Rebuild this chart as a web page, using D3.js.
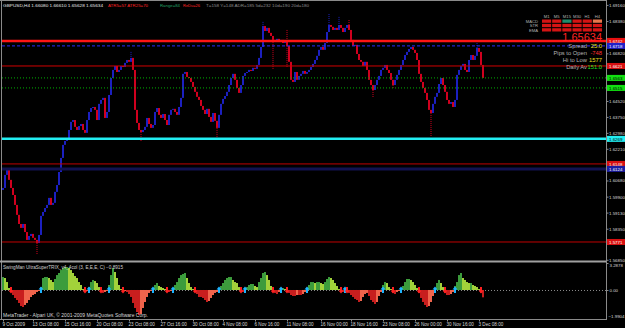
<!DOCTYPE html>
<html><head>
<meta charset="utf-8">
<title>GBPUSD,H4</title>
<script src="https://d3js.org/d3.v7.min.js"></script>
<style>
  body { margin: 0; background: #000; }
  svg { display: block; font-family: "Liberation Sans", Arial, sans-serif; }
  .axis path { stroke: none; }
  .axis line { stroke: #8c8c8c; }
  .axis text { fill: #d8d8d8; font-size: 4.4px; }
</style>
</head>
<body>
<svg id="chart" width="625" height="328"></svg>

<script>

  // ---- data ----

  // H4 closes, one per bar (open = previous close)
  const firstOpen = 1.6022;
  const closes = [
    1.6032,1.6095,1.6119,1.6071,1.6032,1.5998,1.5950,1.5902,1.5858,1.5839,
    1.5858,1.5819,1.5781,1.5800,1.5810,1.5791,1.5781,1.5766,1.5805,1.5897,
    1.5916,1.5935,1.5950,1.5984,1.5950,1.5960,1.6013,1.6046,1.6109,1.6177,
    1.6240,1.6259,1.6273,1.6312,1.6351,1.6360,1.6327,1.6312,1.6331,1.6341,
    1.6312,1.6298,1.6360,1.6399,1.6418,1.6423,1.6409,1.6360,1.6438,1.6457,
    1.6467,1.6370,1.6399,1.6481,1.6563,1.6602,1.6621,1.6592,1.6602,1.6621,
    1.6616,1.6636,1.6650,1.6641,1.6660,1.6602,1.6409,1.6346,1.6312,1.6302,
    1.6312,1.6327,1.6370,1.6341,1.6322,1.6336,1.6399,1.6418,1.6385,1.6370,
    1.6389,1.6360,1.6336,1.6385,1.6409,1.6414,1.6399,1.6385,1.6423,1.6467,
    1.6583,1.6592,1.6568,1.6563,1.6544,1.6520,1.6496,1.6472,1.6457,1.6428,
    1.6409,1.6389,1.6414,1.6375,1.6351,1.6394,1.6356,1.6322,1.6385,1.6438,
    1.6462,1.6476,1.6496,1.6529,1.6563,1.6583,1.6554,1.6515,1.6491,1.6529,
    1.6573,1.6587,1.6592,1.6602,1.6597,1.6612,1.6607,1.6626,1.6660,1.6713,
    1.6814,1.6790,1.6805,1.6781,1.6766,1.6747,1.6737,1.6752,1.6737,1.6747,
    1.6732,1.6742,1.6718,1.6641,1.6554,1.6544,1.6592,1.6554,1.6573,1.6583,
    1.6597,1.6583,1.6592,1.6602,1.6616,1.6631,1.6650,1.6670,1.6699,1.6713,
    1.6699,1.6732,1.6785,1.6819,1.6810,1.6795,1.6805,1.6795,1.6819,1.6805,
    1.6785,1.6805,1.6819,1.6795,1.6747,1.6718,1.6723,1.6679,1.6650,1.6641,
    1.6621,1.6641,1.6602,1.6554,1.6529,1.6505,1.6529,1.6554,1.6573,1.6602,
    1.6612,1.6626,1.6602,1.6587,1.6554,1.6529,1.6554,1.6578,1.6602,1.6626,
    1.6650,1.6674,1.6689,1.6703,1.6713,1.6699,1.6684,1.6650,1.6583,1.6544,
    1.6515,1.6491,1.6457,1.6409,1.6394,1.6438,1.6472,1.6491,1.6534,1.6563,
    1.6529,1.6496,1.6457,1.6438,1.6447,1.6423,1.6457,1.6578,1.6602,1.6621,
    1.6631,1.6602,1.6592,1.6650,1.6674,1.6650,1.6670,1.6708,1.6689,1.6626,
    1.65634
  ];

  // the few long shadows that stick out
  const spikeBar  = [17, 64, 69, 107, 130, 135, 142, 163, 168, 173, 185, 195, 214, 237];
  const spikeHigh = [null, 1.6689, null, null, 1.6834, null, 1.6795, 1.6872, 1.6858, 1.6843, null, null, null, 1.6732];
  const spikeLow  = [1.5708, null, 1.6254, 1.6273, null, 1.6602, 1.6616, null, null, null, 1.6467, 1.6515, 1.6278, null];

  // horizontal objects on the chart
  const levelPrices = [1.6742, 1.6718, 1.6621, 1.65634, 1.6515, 1.6269, 1.6148, 1.6124, 1.5771];

  // price scale labels
  const priceTicks = [1.69160, 1.68380, 1.67600, 1.66820, 1.66050, 1.65280, 1.64520, 1.63750,
                      1.62980, 1.62210, 1.61440, 1.60680, 1.59900, 1.59130, 1.58350, 1.57590, 1.56850];

  // time scale labels and the bar they sit on
  const dateLabels = ["9 Oct 2009", "13 Oct 08:00", "15 Oct 16:00", "20 Oct 08:00", "23 Oct 08:00",
                      "27 Oct 16:00", "30 Oct 08:00", "4 Nov 08:00", "6 Nov 16:00", "11 Nov 08:00",
                      "16 Nov 00:00", "18 Nov 16:00", "23 Nov 08:00", "26 Nov 00:00", "30 Nov 16:00", "3 Dec 08:00"];
  const dateBars = [0, 15, 31, 47, 63, 79, 95, 110, 126, 142, 159, 174, 190, 206, 222, 238];

  // UltraSuperTRIX histogram, one value per bar
  const trix = [
    1.58,1.46,0.97,0.24,-0.12,-0.61,-0.97,-1.22,-1.58,-1.95,
    -2.07,-1.82,-1.58,-1.22,-0.85,-0.61,-0.49,-0.24,-0.12,0.36,
    1.46,1.58,1.58,1.46,1.22,0.97,1.34,1.82,2.07,2.43,
    2.68,2.80,2.80,2.68,2.43,2.07,1.70,1.46,0.97,0.61,
    0.12,-0.24,-0.12,0.36,0.97,1.22,1.09,0.85,0.36,-0.24,
    -0.36,-0.24,-0.12,0.61,1.82,2.68,2.19,1.46,0.61,0.12,
    -0.24,-0.12,-0.24,-0.49,-0.85,-1.58,-2.19,-2.68,-3.04,-2.92,
    -2.19,-1.46,-0.85,-0.36,-0.12,0.24,0.61,0.85,0.49,0.36,
    0.24,0.12,-0.12,-0.24,-0.12,0.24,0.61,0.97,1.46,1.82,
    1.95,2.07,1.46,0.85,0.36,0.12,-0.24,-0.49,-0.85,-0.85,
    -0.97,-1.22,-1.46,-1.34,-0.97,-0.61,-0.36,-0.24,0.12,0.49,
    0.85,1.22,1.46,1.58,1.58,1.22,0.97,0.85,0.36,-0.12,
    -0.24,0.12,0.36,0.61,0.73,0.73,0.49,0.36,0.97,1.46,
    2.07,2.19,1.82,1.22,0.49,-0.24,-0.36,-0.49,-0.24,0.12,
    0.24,0.12,-0.12,-0.36,-0.61,-0.73,-0.73,-0.61,-0.61,-0.61,
    -0.49,-0.24,0.12,0.61,0.97,0.97,0.85,0.97,0.97,0.85,
    0.73,0.97,1.34,1.58,1.46,1.22,0.85,0.49,0.12,-0.12,
    -0.24,0.12,-0.12,-0.36,-0.61,-0.85,-1.09,-1.22,-1.46,-1.34,
    -0.85,-0.49,-0.36,-0.73,-1.22,-1.46,-1.70,-1.46,-0.73,-0.24,
    0.61,0.97,0.85,0.36,0.12,-0.36,-0.49,-0.24,-0.12,0.24,
    0.49,0.97,1.34,1.34,1.22,0.97,0.61,0.24,-0.36,-0.97,
    -1.46,-1.82,-2.07,-1.95,-1.46,-0.73,0.12,0.85,1.22,0.85,
    0.36,-0.36,-0.61,-0.61,-0.49,-0.24,0.49,0.97,1.82,2.07,
    1.46,1.22,0.97,0.85,0.85,0.61,0.49,0.36,0.12,-0.36,
    -0.8915
  ];
  const trixTicks = [3.2878, 0];
  const trixMin = -1.9904;

  // header line
  const symbolText = "GBPUSD,H4  1.66080 1.66610 1.65628 1.65634";
  const atrText = "ATR5=57 ATR25=70";
  const rangeText = "Range=84";
  const reduText = "ReDu=26";
  const statsText = "T=158  Y=148  ADR=185  5d=232  10d=190  20d=180";

  // signal table, top right
  const tfNames = ["M1", "M5", "M15", "M30", "H1", "H4"];
  const rowNames = ["MACD", "STR", "EMA"];
  const macdState = ["dn", "dn", "up", "dn", "dn", "wk"];
  const strState  = ["dn", "dn", "dn", "dn", "dn", "dn"];
  const emaState  = ["dn", "dn", "dn", "dn", "dn", "dn"];

  // price panel
  const bidText = "1.65634";
  const infoLabels = ["Spread", "Pips to Open", "Hi to Low", "Daily Av"];
  const infoValues = ["25.0", "-748", "1577", "151.0"];


  // ---- layout ----
  const svg = d3.select("svg#chart");
  const width = +svg.attr("width");
  const height = +svg.attr("height");
  const plotLeft = 2, plotRight = 606;
  const mainTop = 2, mainBottom = 260;
  const indTop = 263, indBottom = 318;

  svg.append("rect").attr("width", width).attr("height", height).attr("fill", "#000");

  const xScale = d3.scaleLinear().domain([0, closes.length - 1]).range([3, 483]);
  const priceScale = d3.scaleLinear().domain([1.5684, 1.6930]).range([mainBottom, mainTop]);
  const trixScale = d3.scaleLinear().domain([-3.41, 3.2878]).range([indBottom, indTop]);


  // ---- candles ----
  const upCol = "#1c20c0", dnCol = "#d0001e";
  let candles = svg.append("g");
  closes.forEach((c, i) => {
    const o = i === 0 ? firstOpen : closes[i - 1];
    const top = priceScale(Math.max(o, c));
    const bot = priceScale(Math.min(o, c));
    candles.append("rect")
      .attr("x", xScale(i) - 1)
      .attr("y", top)
      .attr("width", 2)
      .attr("height", Math.max(1, bot - top))
      .attr("fill", c >= o ? upCol : dnCol);
  });

  spikeBar.forEach((b, k) => {
    const o = b === 0 ? firstOpen : closes[b - 1];
    const c = closes[b];
    const col = c >= o ? upCol : dnCol;
    if (spikeHigh[k] !== null) {
      candles.append("line")
        .attr("x1", xScale(b)).attr("x2", xScale(b))
        .attr("y1", priceScale(spikeHigh[k])).attr("y2", priceScale(Math.max(o, c)))
        .attr("stroke", col).attr("stroke-dasharray", "1,1");
    }
    if (spikeLow[k] !== null) {
      candles.append("line")
        .attr("x1", xScale(b)).attr("x2", xScale(b))
        .attr("y1", priceScale(Math.min(o, c))).attr("y2", priceScale(spikeLow[k]))
        .attr("stroke", col).attr("stroke-dasharray", "1,1");
    }
  });


  // ---- horizontal levels ----
  const levelStyle = [
    {c: "#ff1414", w: 2.5, dash: null,  box: "#e81010", txt: "#fff"},
    {c: "#2a2aff", w: 1,   dash: "3,2", box: "#2020c8", txt: "#fff"},
    {c: "#d00000", w: 1,   dash: null,  box: "#d81010", txt: "#fff"},
    {c: "#00b000", w: 1,   dash: "1,2", box: "#12e012", txt: "#000"},
    {c: "#00b000", w: 1,   dash: "1,2", box: "#12e012", txt: "#000"},
    {c: "#22eef2", w: 2.5, dash: null,  box: "#22eef2", txt: "#000"},
    {c: "#c00000", w: 1,   dash: null,  box: "#d81010", txt: "#fff"},
    {c: "#121250", w: 3,   dash: null,  box: "#1c1ca0", txt: "#fff"},
    {c: "#c00000", w: 1,   dash: null,  box: "#d81010", txt: "#fff"}
  ];

  let levels = svg.append("g");
  levelPrices.forEach((p, i) => {
    const s = levelStyle[i];
    levels.append("line")
      .attr("x1", plotLeft).attr("x2", plotRight)
      .attr("y1", priceScale(p)).attr("y2", priceScale(p))
      .attr("stroke", s.c).attr("stroke-width", s.w)
      .attr("stroke-dasharray", s.dash);
  });


  // ---- frame ----
  const frameCol = "#8a8a8a";
  svg.append("line").attr("x1", 0).attr("x2", plotRight).attr("y1", 0.5).attr("y2", 0.5).attr("stroke", frameCol);
  svg.append("line").attr("x1", 1.5).attr("x2", 1.5).attr("y1", 0).attr("y2", 320).attr("stroke", frameCol);
  svg.append("line").attr("x1", plotRight + 0.5).attr("x2", plotRight + 0.5).attr("y1", 0).attr("y2", 320).attr("stroke", frameCol);
  svg.append("line").attr("x1", 0).attr("x2", plotRight).attr("y1", 261.5).attr("y2", 261.5).attr("stroke", "#a0a0a0").attr("stroke-width", 2);
  svg.append("line").attr("x1", 0).attr("x2", plotRight).attr("y1", 319.5).attr("y2", 319.5).attr("stroke", frameCol);


  // ---- price axis ----
  // MT4 hides a scale label when a price tag sits on top of it
  const levelY = levelPrices.map(p => priceScale(p));
  const shownTicks = priceTicks.filter(t => levelY.every(y => Math.abs(priceScale(t) - y) > 4));

  let priceAxis = d3.axisRight(priceScale)
                    .tickValues(shownTicks)
                    .tickFormat(d3.format(".5f"))
                    .tickSize(2).tickSizeOuter(0).tickPadding(0.5);
  svg.append("g").attr("class", "axis")
    .attr("transform", "translate(" + (plotRight + 0.5) + ",0)")
    .call(priceAxis);

  // price tags for each level on the scale
  levelPrices.forEach((p, i) => {
    const s = levelStyle[i];
    const y = priceScale(p);
    svg.append("rect").attr("x", plotRight + 1).attr("y", y - 3).attr("width", width - plotRight).attr("height", 6)
      .attr("fill", s.box);
    svg.append("text").attr("x", plotRight + 3).attr("y", y + 1.8)
      .attr("font-size", 4.4).attr("fill", s.txt)
      .text(d3.format(".4f")(p));
  });


  // ---- time axis ----
  let timeAxis = d3.axisBottom(xScale)
                   .tickValues(dateBars)
                   .tickFormat((d, i) => dateLabels[i])
                   .tickSize(2).tickSizeOuter(0).tickPadding(1);
  let tAxis = svg.append("g").attr("class", "axis")
    .attr("transform", "translate(0," + 319.5 + ")")
    .call(timeAxis);
  tAxis.selectAll("text").attr("text-anchor", "start").attr("x", -1).style("font-size", "4.6px");


  // ---- indicator window ----
  svg.append("line")
    .attr("x1", plotLeft).attr("x2", plotRight)
    .attr("y1", trixScale(0) + 0.5).attr("y2", trixScale(0) + 0.5)
    .attr("stroke", "#8a8a8a").attr("stroke-dasharray", "1,2");

  let hist = svg.append("g");
  trix.forEach((v, i) => {
    const prev = i === 0 ? v : trix[i - 1];
    let col;
    if (v >= 0) col = v >= prev ? "#3c9c3c" : "#a2d23a";
    else col = v <= prev ? "#c81e1e" : "#f0644c";
    const y0 = trixScale(Math.max(v, 0));
    const y1 = trixScale(Math.min(v, 0));
    hist.append("rect")
      .attr("x", xScale(i) - 1).attr("y", y0)
      .attr("width", 2).attr("height", Math.max(0.5, y1 - y0))
      .attr("fill", col);
  });

  // arrows where the histogram changes sign
  const zy = trixScale(0);
  trix.forEach((v, i) => {
    if (i === 0) return;
    const p = trix[i - 1];
    const cx = xScale(i);
    if (v > 0 && p <= 0) {
      hist.append("path")
        .attr("d", "M" + cx + "," + (zy - 3.5) + " l2.5,3 h-1.5 v3.5 h-2 v-3.5 h-1.5 z")
        .attr("fill", "#1eb4ff");
    } else if (v < 0 && p >= 0) {
      hist.append("path")
        .attr("d", "M" + cx + "," + (zy + 3.5) + " l2.5,-3 h-1.5 v-3.5 h-2 v3.5 h-1.5 z")
        .attr("fill", "#ff2020");
    }
  });

  let trixAxis = d3.axisRight(trixScale)
                   .tickValues(trixTicks)
                   .tickFormat(d => d === 0 ? "0.00" : d3.format(".4f")(d))
                   .tickSize(2).tickSizeOuter(0).tickPadding(1);
  let tx = svg.append("g").attr("class", "axis")
    .attr("transform", "translate(" + (plotRight + 0.5) + ",0)")
    .call(trixAxis);
  tx.selectAll("text").filter(d => d !== 0).attr("dy", "0.9em");
  svg.append("text").attr("x", plotRight + 2.5).attr("y", indBottom - 0.5)
    .attr("font-size", 4.4).attr("fill", "#d8d8d8")
    .text(d3.format(".4f")(trixMin));

  svg.append("text").attr("x", 3).attr("y", 269)
    .attr("font-size", 4.6).attr("fill", "#d0d0d0")
    .attr("textLength", 120).attr("lengthAdjust", "spacingAndGlyphs")
    .text("SwingMan UltraSuperTRIX_v4_4col (3, E,E,E, C) " + d3.format(".4f")(trix[trix.length - 1]));

  svg.append("text").attr("x", 3).attr("y", 316.5)
    .attr("font-size", 4.6).attr("fill", "#d8d8d8")
    .attr("textLength", 145).attr("lengthAdjust", "spacingAndGlyphs")
    .text("MetaTrader - Alpari UK, \u00a9 2001-2009 MetaQuotes Software Corp.");


  // ---- header line ----
  const header = [
    {t: symbolText, x: 3,   w: 100, c: "#e8e8e8"},
    {t: atrText,    x: 108, w: 40,  c: "#ff2424"},
    {t: rangeText,  x: 160, w: 20,  c: "#22a064"},
    {t: reduText,   x: 183, w: 17,  c: "#ff2424"},
    {t: statsText,  x: 206, w: 103, c: "#8c8c8c"}
  ];
  header.forEach(h => {
    svg.append("text").attr("x", h.x).attr("y", 7)
      .attr("font-size", 4.4).attr("fill", h.c)
      .attr("textLength", h.w).attr("lengthAdjust", "spacingAndGlyphs")
      .text(h.t);
  });


  // ---- signal table ----
  const cellX = d3.scaleBand().domain(tfNames).range([542, 602]).paddingInner(0.1);
  const cellY = d3.scaleBand().domain(rowNames).range([19.5, 31.5]).paddingInner(0.25);
  const stateCol = {dn: "#d41414", up: "#1f8c6c", wk: "#e8784c"};
  const states = [macdState, strState, emaState];

  tfNames.forEach(tf => {
    svg.append("text").attr("x", cellX(tf) + cellX.bandwidth() / 2).attr("y", 17.5)
      .attr("text-anchor", "middle").attr("font-size", 4.2).attr("fill", "#b0b0b0")
      .text(tf);
  });
  rowNames.forEach((r, ri) => {
    svg.append("text").attr("x", 538).attr("y", cellY(r) + cellY.bandwidth())
      .attr("text-anchor", "end").attr("font-size", 4.2).attr("fill", "#b0b0b0")
      .text(r);
    tfNames.forEach((tf, ti) => {
      svg.append("rect")
        .attr("x", cellX(tf)).attr("y", cellY(r))
        .attr("width", cellX.bandwidth()).attr("height", cellY.bandwidth())
        .attr("fill", stateCol[states[ri][ti]]);
    });
  });


  // ---- price info block ----
  svg.append("text").attr("x", 602).attr("y", 40.5)
    .attr("text-anchor", "end").attr("font-size", 11).attr("fill", "#ff2222")
    .text(bidText);

  const infoCol = ["#f0e020", "#ff3030", "#f0e020", "#22e022"];
  infoLabels.forEach((l, i) => {
    const y = 47.5 + i * 7.2;
    svg.append("text").attr("x", 587).attr("y", y)
      .attr("text-anchor", "end").attr("font-size", 5.8).attr("fill", "#b4b4b4")
      .text(l);
    svg.append("text").attr("x", 602).attr("y", y)
      .attr("text-anchor", "end").attr("font-size", 5.8).attr("fill", infoCol[i])
      .text(infoValues[i]);
  });

</script>
</body>
</html>
